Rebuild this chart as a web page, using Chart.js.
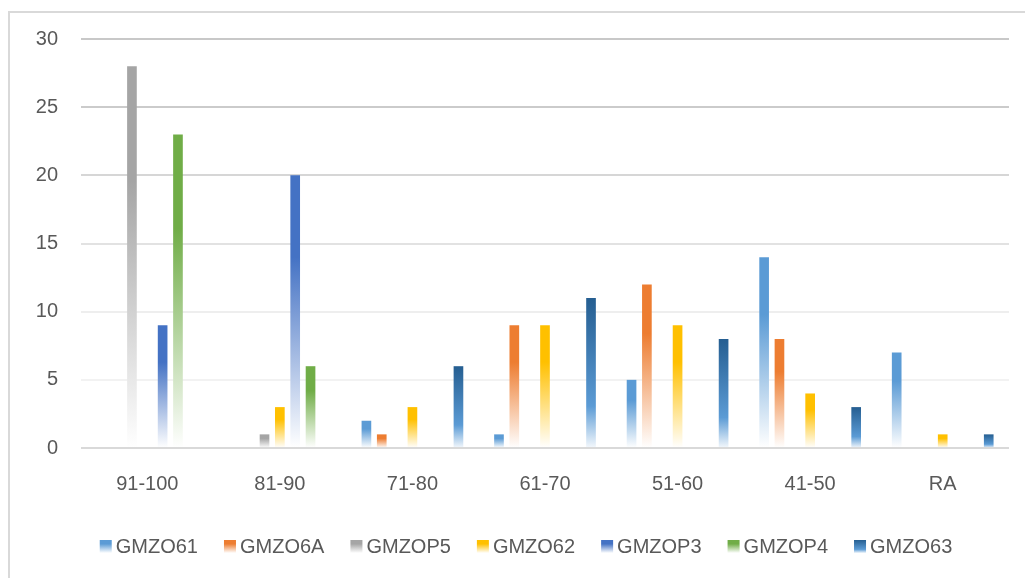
<!DOCTYPE html>
<html>
<head>
<meta charset="utf-8">
<script src="https://cdn.jsdelivr.net/npm/chart.js@4.4.1/dist/chart.umd.min.js"></script>
<style>
  html, body { margin: 0; padding: 0; background: #ffffff; }
  #wrap { position: relative; width: 1025px; height: 578px; overflow: hidden; }
  #frame { position: absolute; left: 8px; top: 11px; width: 1100px; height: 700px;
           border-left: 2px solid #d9d9d9; border-top: 2px solid #d9d9d9; box-sizing: border-box; }
  #c { position: absolute; left: 0; top: 0; }
</style>
</head>
<body>
<div id="wrap">
  <div id="frame"></div>
  <canvas id="c" width="1025" height="578"></canvas>
</div>
<script>
const categories = ['91-100', '81-90', '71-80', '61-70', '51-60', '41-50', 'RA'];
const seriesNames = ['GMZO61', 'GMZO6A', 'GMZOP5', 'GMZO62', 'GMZOP3', 'GMZOP4', 'GMZO63'];
const GMZO61 = [0, 0, 2, 1, 5, 14, 7];
const GMZO6A = [0, 0, 1, 9, 12, 8, 0];
const GMZOP5 = [28, 1, 0, 0, 0, 0, 0];
const GMZO62 = [0, 3, 3, 9, 9, 4, 1];
const GMZOP3 = [9, 20, 0, 0, 0, 0, 0];
const GMZOP4 = [23, 6, 0, 0, 0, 0, 0];
const GMZO63 = [0, 0, 6, 11, 8, 3, 1];
const yTicks = [0, 5, 10, 15, 20, 25, 30];

const seriesValues = [GMZO61, GMZO6A, GMZOP5, GMZO62, GMZOP3, GMZOP4, GMZO63];
const colorStops = [
  [[0, '#5b9bd5'], [0.3, '#5b9bd5'], [1, '#ffffff']],
  [[0, '#ed7d31'], [0.3, '#ed7d31'], [1, '#ffffff']],
  [[0, '#a5a5a5'], [0.3, '#a5a5a5'], [1, '#ffffff']],
  [[0, '#ffc000'], [0.3, '#ffc000'], [1, '#ffffff']],
  [[0, '#4472c4'], [0.3, '#4472c4'], [1, '#ffffff']],
  [[0, '#70ad47'], [0.3, '#70ad47'], [1, '#ffffff']],
  [[0, '#255e91'], [0.72, '#5b9bd5'], [1, '#f4f8fc']]
];
const gridColors = {0: '#d9d9d9', 5: '#f2f2f2', 10: '#eeeeee', 15: '#e2e2e2', 20: '#d6d6d6', 25: '#cbcbcb', 30: '#c8c8c8'};

function makeGradient(ctx, stops, top, bottom) {
  const g = ctx.createLinearGradient(0, top, 0, bottom);
  stops.forEach(s => g.addColorStop(s[0], s[1]));
  return g;
}

function barFill(dsIndex) {
  return function(context) {
    const chart = context.chart;
    const y = chart.scales.y;
    if (context.raw == null || context.raw === 0) return 'rgba(0,0,0,0)';
    if (!y) return colorStops[dsIndex][0][1];
    const top = y.getPixelForValue(context.raw);
    const base = y.getPixelForValue(0);
    if (!isFinite(top) || !isFinite(base) || top === base) return colorStops[dsIndex][0][1];
    return makeGradient(chart.ctx, colorStops[dsIndex], top, base);
  };
}

const FONT = '"Liberation Sans", Arial, sans-serif';

const legendPlugin = {
  id: 'gradLegend',
  afterDraw(chart) {
    const ctx = chart.ctx;
    ctx.save();
    ctx.font = '20px ' + FONT;
    const box = 12, gap = 4, spacing = 26, cy = 547;
    const widths = seriesNames.map(n => ctx.measureText(n).width);
    const total = widths.reduce((a, w) => a + box + gap + w, 0) + spacing * (seriesNames.length - 1);
    let x = 526 - total / 2;
    seriesNames.forEach((n, i) => {
      ctx.fillStyle = makeGradient(ctx, colorStops[i], cy - 7, cy + 6);
      ctx.fillRect(x, cy - 7, box, 13);
      ctx.fillStyle = '#595959';
      ctx.textBaseline = 'middle';
      ctx.textAlign = 'left';
      ctx.fillText(n, x + box + gap, cy);
      x += box + gap + widths[i] + spacing;
    });
    ctx.restore();
  }
};

new Chart(document.getElementById('c'), {
  type: 'bar',
  data: {
    labels: categories,
    datasets: seriesNames.map((name, i) => ({
      label: name,
      data: seriesValues[i],
      backgroundColor: barFill(i),
      borderWidth: 0,
      categoryPercentage: 0.81,
      barPercentage: 0.63
    }))
  },
  options: {
    responsive: false,
    devicePixelRatio: 1,
    animation: false,
    layout: { padding: { left: 0, right: 16, top: 39, bottom: 0 } },
    plugins: {
      legend: { display: false },
      tooltip: { enabled: false }
    },
    scales: {
      x: {
        grid: { display: false, drawTicks: false },
        border: { display: false },
        ticks: { color: '#595959', font: { family: FONT, size: 20 }, padding: 24, maxRotation: 0 },
        afterFit(scale) { scale.height = 130; }
      },
      y: {
        min: 0,
        max: 30,
        afterBuildTicks(scale) { scale.ticks = yTicks.map(v => ({ value: v })); },
        grid: {
          drawTicks: false,
          lineWidth: 2,
          color: (ctx) => gridColors[ctx.tick ? ctx.tick.value : 0] || '#e0e0e0'
        },
        border: { display: false },
        ticks: { color: '#595959', font: { family: FONT, size: 20 }, padding: 23 },
        afterFit(scale) { scale.width = 81; }
      }
    }
  },
  plugins: [legendPlugin]
});
</script>
</body>
</html>
